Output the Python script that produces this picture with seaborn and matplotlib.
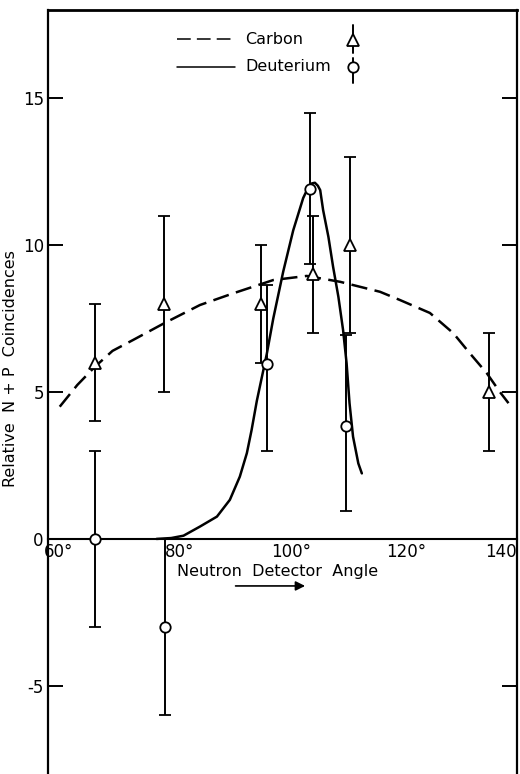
import matplotlib
matplotlib.use("Agg")
import matplotlib.pyplot as plt
import matplotlib.transforms as mtransforms
import seaborn as sns

# measured points: detector angle (deg) vs relative N+P coincidences
carbon_angle = [68.0, 79.8, 96.3, 105.1, 111.4, 135.2]
carbon_val = [6.0, 8.0, 8.0, 9.0, 10.0, 5.0]
carbon_err = [2.0, 3.0, 2.0, 2.0, 3.0, 2.0]

deut_angle = [68.0, 79.9, 97.3, 104.7, 110.8]
deut_val = [0.0, -3.0, 5.95, 11.9, 3.85]
deut_err_low = [3.0, 3.0, 2.95, 2.55, 2.9]
deut_err_high = [3.0, 3.0, 2.7, 2.6, 3.1]

# curves
carbon_curve_angle = [62.0, 65.0, 68.0, 71.0, 74.5, 79.8, 85.9, 91.6, 98.4, 104.1,
                      109.8, 116.6, 120.0, 125.1, 129.1, 131.9, 134.8, 137.0, 138.5]
carbon_curve_val = [4.5, 5.24, 5.86, 6.4, 6.77, 7.34, 7.96, 8.36, 8.81, 8.95,
                    8.75, 8.41, 8.13, 7.69, 7.0, 6.32, 5.64, 5.01, 4.62]

deut_curve_angle = [78.5, 81.0, 83.1, 85.9, 88.8, 91.0, 92.7, 93.9, 94.7, 95.6,
                    97.3, 98.4, 100.1, 101.8, 103.5, 104.4, 105.0, 105.5, 106.0,
                    106.4, 106.9, 107.8, 108.6, 109.5, 110.3, 110.9, 111.4, 112.0,
                    112.9, 113.5]
deut_curve_val = [0.0, 0.03, 0.11, 0.42, 0.76, 1.33, 2.12, 2.92, 3.7, 4.7,
                  6.3, 7.5, 9.1, 10.5, 11.6, 11.98, 12.1, 12.12, 12.02,
                  11.87, 11.19, 10.28, 9.26, 8.24, 7.11, 5.98, 4.62, 3.48,
                  2.57, 2.23]

xtick_vals = [60, 80, 100, 120, 140]
xtick_labels = ["60°", "80°", "100°", "120°", "140"]
ytick_vals = [-5, 0, 5, 10, 15]
ytick_labels = ["-5", "0", "5", "10", "15"]

sns.set_style("white")
plt.rcParams['font.family'] = ['DejaVu Sans']
plt.rcParams['text.color'] = 'black'
plt.rcParams['axes.labelcolor'] = 'black'
plt.rcParams['xtick.color'] = 'black'
plt.rcParams['ytick.color'] = 'black'

fig = plt.figure(figsize=(5.2, 7.74), dpi=100)
ax = fig.add_axes([48 / 520, 0.0, 469.3 / 520, 764 / 774])

# curves
sns.lineplot(x=carbon_curve_angle, y=carbon_curve_val, sort=False, estimator=None,
             color='black', lw=1.8, linestyle=(0, (6.5, 3)), ax=ax, zorder=2)
sns.lineplot(x=deut_curve_angle, y=deut_curve_val, sort=False, estimator=None,
             color='black', lw=1.8, ax=ax, zorder=2)

# data with error bars
ax.errorbar(carbon_angle, carbon_val, yerr=carbon_err, fmt='^', ms=8,
            mfc='white', mec='black', mew=1.3, ecolor='black', elinewidth=1.4,
            capsize=4.5, capthick=1.4, zorder=3)
ax.errorbar(deut_angle, deut_val, yerr=[deut_err_low, deut_err_high], fmt='o', ms=7.5,
            mfc='white', mec='black', mew=1.3, ecolor='black', elinewidth=1.4,
            capsize=4.5, capthick=1.4, zorder=3)

ax.set_xlim(60, 140)
ax.set_ylim(-8, 18)

# frame: the x axis runs along zero
ax.spines['bottom'].set_position(('data', 0))
ax.spines['bottom'].set_linewidth(1.5)
ax.spines['left'].set_linewidth(1.6)
ax.spines['right'].set_linewidth(1.6)
ax.spines['top'].set_linewidth(2.0)
for s in ax.spines.values():
    s.set_color('black')

ax.set_xticks(xtick_vals, xtick_labels)
ax.set_yticks(ytick_vals, ytick_labels)
ax.tick_params(axis='x', direction='in', length=8.5, width=1.4, pad=3, labelsize=12,
               colors='black')
ax.tick_params(axis='y', direction='in', left=True, right=True, length=10.5,
               width=1.4, pad=3, labelsize=12, colors='black')

# nudge the angle labels like the original lettering
offsets_px = [11, 14, 8, 6, -16]
for lab, dx in zip(ax.get_xticklabels(), offsets_px):
    lab.set_transform(lab.get_transform() +
                      mtransforms.ScaledTranslation(dx / 100, 0, fig.dpi_scale_trans))

ax.set_ylabel("Relative  N + P  Coincidences", fontsize=11.5)
ax.yaxis.set_label_coords(-0.064, 0.531)
ax.set_xlabel("")

ax.text(99.2, -1.1, "Neutron  Detector  Angle", ha='center', va='center', fontsize=11.5)
ax.annotate("", xy=(104.3, -1.6), xytext=(91.5, -1.6),
            arrowprops=dict(arrowstyle='-|>', color='black', lw=1.2, mutation_scale=14))

# hand-drawn style legend
tr = ax.transAxes
ax.plot([0.275, 0.398], [0.962, 0.962], transform=tr, color='black', lw=1.1,
        linestyle=(0, (9, 4)))
ax.plot([0.275, 0.398], [0.926, 0.926], transform=tr, color='black', lw=1.1)
ax.text(0.420, 0.962, "Carbon", transform=tr, ha='left', va='center', fontsize=11.5)
ax.text(0.420, 0.926, "Deuterium", transform=tr, ha='left', va='center', fontsize=11.5)
ax.plot([0.650, 0.650], [0.944, 0.980], transform=tr, color='black', lw=1.4)
ax.plot([0.650], [0.961], transform=tr, marker='^', ms=8, mfc='white', mec='black', mew=1.3)
ax.plot([0.650, 0.650], [0.905, 0.937], transform=tr, color='black', lw=1.4)
ax.plot([0.650], [0.925], transform=tr, marker='o', ms=7.5, mfc='white', mec='black', mew=1.3)

fig.savefig("out.png", dpi=100)
